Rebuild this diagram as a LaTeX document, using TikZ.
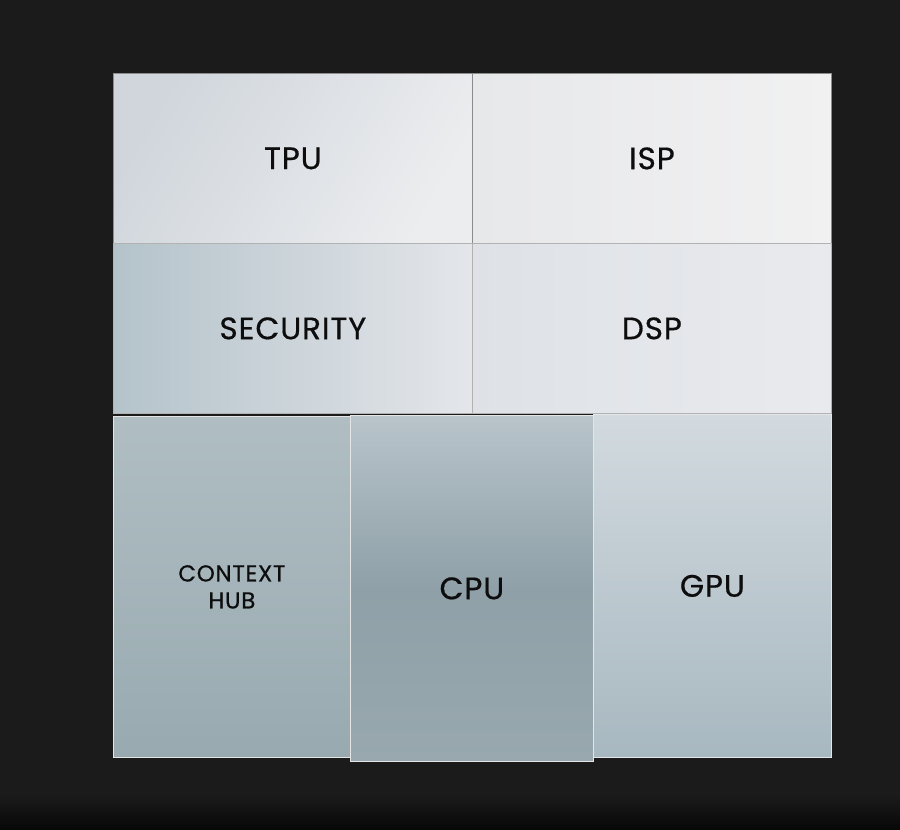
\documentclass[tikz,border=0pt]{standalone}
\usepackage{fontspec}
\setmainfont{Poppins}[LetterSpace=3, FakeBold=0.6]
\begin{document}
\begin{tikzpicture}[x=1pt,y=-1pt,
  chip/.style={rectangle, anchor=north west, inner sep=0pt, line width=0.8pt,
    font=\fontsize{31}{36}\selectfont, text=black!95},
  toprow/.style={chip, draw=black!45},
  lowrow/.style={chip, draw=white!80!gray}]
\definecolor{bgdark}{HTML}{1B1B1B}
\definecolor{bgblack}{HTML}{070707}
% background
\fill[bgdark] (0,0) rectangle (900,830);
\shade[top color=bgdark, bottom color=bgblack] (0,795) rectangle (900,830);
\useasboundingbox (0,0) rectangle (900,830);
% top row
\node[toprow, minimum width=359pt, minimum height=170pt,
  left color={rgb,255:red,208;green,214;blue,220}, right color={rgb,255:red,236;green,237;blue,239},
  shading angle=60] (tpu) at (113,73) {TPU};
\node[toprow, minimum width=359pt, minimum height=170pt,
  left color={rgb,255:red,231;green,232;blue,234}, right color={rgb,255:red,241;green,241;blue,242}] (isp) at (472,73) {ISP};
% middle row
\node[toprow, draw=black!30, minimum width=359pt, minimum height=170pt,
  left color={rgb,255:red,180;green,195;blue,202}, right color={rgb,255:red,228;green,230;blue,234}] (sec) at (113,243) {SECURITY};
\node[toprow, draw=black!30, minimum width=359pt, minimum height=170pt,
  left color={rgb,255:red,222;green,226;blue,231}, right color={rgb,255:red,233;green,234;blue,237}] (dsp) at (472,243) {DSP};
% bottom row
\node[lowrow, minimum width=237pt, minimum height=341pt, align=center,
  font=\fontsize{23}{27}\selectfont,
  top color={rgb,255:red,176;green,190;blue,195}, bottom color={rgb,255:red,152;green,170;blue,176}] (ctx) at (113,416) {CONTEXT\\HUB};
\node[lowrow, minimum width=238pt, minimum height=343pt,
  top color={rgb,255:red,210;green,218;blue,223}, bottom color={rgb,255:red,168;green,184;blue,192}] (gpu) at (593,414) {GPU};
\node[lowrow, minimum width=243pt, minimum height=346pt,
  top color={rgb,255:red,184;green,196;blue,202}, bottom color={rgb,255:red,152;green,168;blue,174},
  middle color={rgb,255:red,143;green,160;blue,168}] (cpu) at (350,415) {CPU};
\end{tikzpicture}
\end{document}
